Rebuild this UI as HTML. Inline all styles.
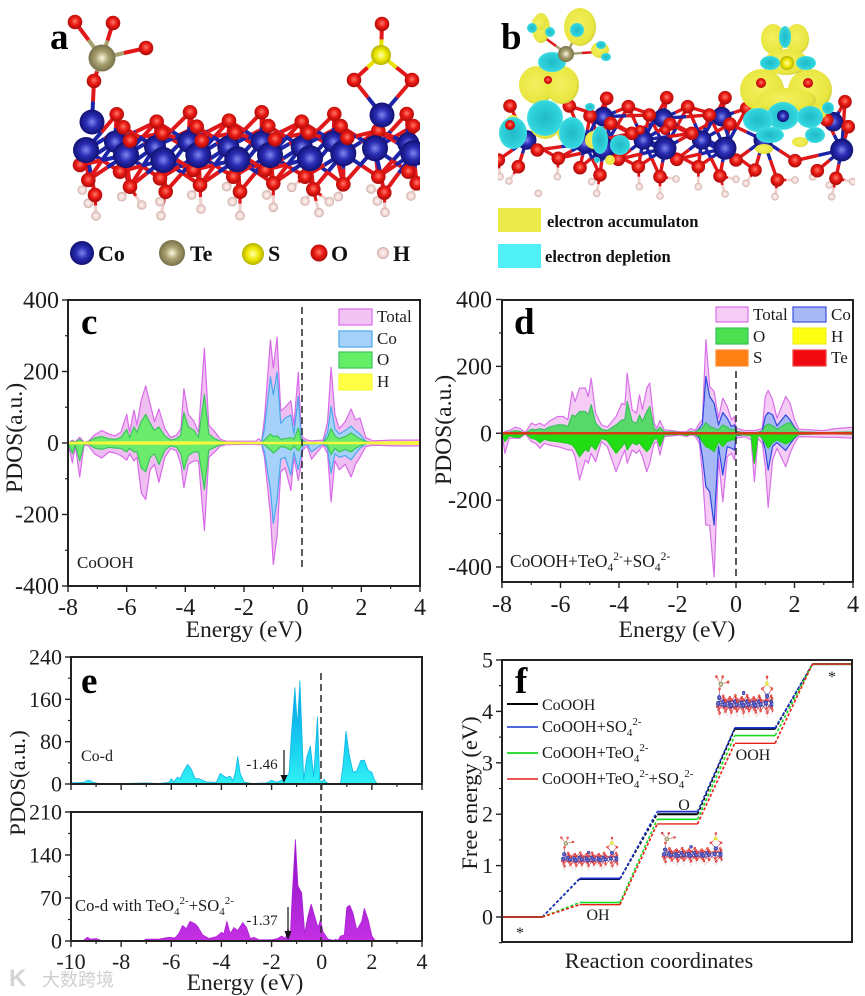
<!DOCTYPE html>
<html lang="en">
<head>
<meta charset="utf-8">
<title>CoOOH composite figure</title>
<style>
html,body{margin:0;padding:0;background:#fff}
svg{display:block}
text{font-family:"Liberation Serif","Noto Serif CJK SC",serif;fill:#1c1c1c}
.tick{font-size:24px}
.tick-small{font-size:22px}
.title{font-size:23.6px}
.letter{font-size:37px;font-weight:bold;fill:#000}
.leg{font-size:17px}
.small{font-size:16px}
.elem{font-size:22px;font-weight:bold;fill:#111}
.iso{font-size:16.5px;font-weight:bold;fill:#111}
</style>
</head>
<body>
<svg id="figure" width="865" height="996" viewBox="0 0 865 996" xmlns="http://www.w3.org/2000/svg">
<defs>
<radialGradient id="gCo" cx=".5" cy=".5" r=".55"><stop offset="0" stop-color="#7f86ee"/><stop offset=".45" stop-color="#2a2cb4"/><stop offset="1" stop-color="#0c0c66"/></radialGradient>
<radialGradient id="gO" cx=".5" cy=".45" r=".55"><stop offset="0" stop-color="#ff7a6a"/><stop offset=".5" stop-color="#ea1a14"/><stop offset="1" stop-color="#a80a08"/></radialGradient>
<radialGradient id="gTe" cx=".5" cy=".5" r=".55"><stop offset="0" stop-color="#fbfbe0"/><stop offset=".45" stop-color="#a8a070"/><stop offset="1" stop-color="#6e6840"/></radialGradient>
<radialGradient id="gS" cx=".5" cy=".5" r=".55"><stop offset="0" stop-color="#ffffb0"/><stop offset=".5" stop-color="#eee800"/><stop offset="1" stop-color="#a8a400"/></radialGradient>
<radialGradient id="gH" cx=".5" cy=".5" r=".55"><stop offset="0" stop-color="#fff6f4"/><stop offset=".6" stop-color="#f0d4d0"/><stop offset="1" stop-color="#b89a96"/></radialGradient>
<radialGradient id="gY" cx=".45" cy=".45" r=".6"><stop offset="0" stop-color="#f4f060"/><stop offset=".8" stop-color="#e8e640"/><stop offset="1" stop-color="#c8c838"/></radialGradient>
<radialGradient id="gC" cx=".5" cy=".5" r=".6"><stop offset="0" stop-color="#20b8c8"/><stop offset=".7" stop-color="#30d4dc"/><stop offset="1" stop-color="#60e8ec"/></radialGradient>
<linearGradient id="gCyan" x1="0" y1="0" x2="0" y2="1"><stop offset="0" stop-color="#0a9ae8"/><stop offset=".55" stop-color="#16c8f0"/><stop offset="1" stop-color="#30f0f4"/></linearGradient>
<linearGradient id="gPurple" x1="0" y1="0" x2="0" y2="1"><stop offset="0" stop-color="#8a10c4"/><stop offset="1" stop-color="#c430e4"/></linearGradient>
<clipPath id="clipA"><rect x="63" y="105" width="357" height="120"/></clipPath>
<clipPath id="clipB"><rect x="498" y="90" width="357" height="115"/></clipPath>
</defs>
<rect width="865" height="996" fill="#fff"/>

<g id="panelA"></g>
<g id="panelB"></g>
<g id="panelC"></g>
<g id="panelD"></g>
<g id="panelE1"></g>
<g id="panelE2"></g>
<g id="panelF"></g>
<g id="minis"></g>

<text class="letter" x="50" y="49">a</text>
<text class="letter" x="501" y="49">b</text>
<text class="letter" x="81" y="334">c</text>
<text class="letter" x="514" y="334">d</text>
<text class="letter" x="81" y="693">e</text>
<text class="letter" x="515" y="693">f</text>

<g>
<circle cx="82" cy="253" r="12" fill="url(#gCo)"/>
<text class="elem" x="98" y="261">Co</text>
<circle cx="172" cy="253" r="13" fill="url(#gTe)"/>
<text class="elem" x="190" y="261">Te</text>
<circle cx="253" cy="254" r="11" fill="url(#gS)"/>
<text class="elem" x="268" y="261">S</text>
<circle cx="319" cy="253" r="8.5" fill="url(#gO)"/>
<text class="elem" x="331" y="261">O</text>
<circle cx="383" cy="253" r="6" fill="url(#gH)"/>
<text class="elem" x="393" y="261">H</text>
</g>

<g>
<rect x="498" y="208" width="43" height="24" fill="#eaea4a"/>
<text class="iso" x="547" y="227">electron accumulaton</text>
<rect x="498" y="244" width="43" height="24" fill="#4ff0f6"/>
<text class="iso" x="545" y="262">electron depletion</text>
</g>

<text class="title" x="244" y="637" text-anchor="middle">Energy (eV)</text>
<text class="title" transform="translate(22,438) rotate(-90)" text-anchor="middle">PDOS(a.u.)</text>
<text class="small" x="77" y="568" style="font-size:17px">CoOOH</text>

<text class="title" x="677" y="637" text-anchor="middle">Energy (eV)</text>
<text class="title" transform="translate(451,430) rotate(-90)" text-anchor="middle">PDOS(a.u.)</text>
<text class="small" x="510" y="567" style="font-size:17.4px">CoOOH+TeO<tspan dy="4" font-size="11.5">4</tspan><tspan dy="-11" font-size="11.5">2-</tspan><tspan dy="7">+SO</tspan><tspan dy="4" font-size="11.5">4</tspan><tspan dy="-11" font-size="11.5">2-</tspan></text>

<text class="title" x="245" y="990" text-anchor="middle">Energy (eV)</text>
<text class="title" transform="translate(25,783) rotate(-90)" text-anchor="middle" style="font-size:22.6px">PDOS(a.u.)</text>
<text class="small" x="81" y="761">Co-d</text>
<text class="small" x="75" y="911" style="font-size:16.6px">Co-d with TeO<tspan dy="4" font-size="11">4</tspan><tspan dy="-11" font-size="11">2-</tspan><tspan dy="7">+SO</tspan><tspan dy="4" font-size="11">4</tspan><tspan dy="-11" font-size="11">2-</tspan></text>
<text x="262" y="769" text-anchor="middle" style="font-size:15px">-1.46</text>
<text x="262" y="925" text-anchor="middle" style="font-size:15px">-1.37</text>

<text class="title" x="659" y="968" text-anchor="middle" style="font-size:22.4px">Reaction coordinates</text>
<text class="title" transform="translate(477,793) rotate(-90)" text-anchor="middle" style="font-size:22.5px">Free energy (eV)</text>
<text class="small" x="598" y="920" text-anchor="middle">OH</text>
<text class="small" x="684" y="810" text-anchor="middle">O</text>
<text class="small" x="753" y="760" text-anchor="middle">OOH</text>
<text class="small" x="520" y="938" text-anchor="middle">*</text>
<text class="small" x="832" y="682" text-anchor="middle">*</text>
<g>
<text class="small" x="542" y="710">CoOOH</text>
<text class="small" x="542" y="732" style="font-size:16.4px">CoOOH+SO<tspan dy="4" font-size="11">4</tspan><tspan dy="-11" font-size="11">2-</tspan></text>
<text class="small" x="542" y="758" style="font-size:16.4px">CoOOH+TeO<tspan dy="4" font-size="11">4</tspan><tspan dy="-11" font-size="11">2-</tspan></text>
<text class="small" x="542" y="784" style="font-size:16.4px">CoOOH+TeO<tspan dy="4" font-size="11">4</tspan><tspan dy="-11" font-size="11">2-</tspan><tspan dy="7">+SO</tspan><tspan dy="4" font-size="11">4</tspan><tspan dy="-11" font-size="11">2-</tspan></text>
</g>

<g>
<text x="9" y="986" style="font-size:24px;fill:#d4d4d4;font-family:'Liberation Sans',sans-serif;font-weight:bold">K</text>
<text x="42" y="986" style="font-size:18px;fill:#cfcfcf;font-family:'Liberation Sans','Noto Sans CJK SC',sans-serif">大数跨境</text>
</g>
</svg>

<script>
/* ===== Panel c data (Energy eV, PDOS a.u.) ===== */
const cEnergy=[-8,-7.85,-7.75,-7.6,-7.45,-7.3,-7.1,-6.85,-6.6,-6.4,-6.2,-6,-5.9,-5.75,-5.65,-5.5,-5.35,-5.2,-5.05,-4.9,-4.7,-4.5,-4.3,-4.15,-4.05,-3.9,-3.7,-3.55,-3.35,-3.2,-3,-2.8,-2.6,-2,-1.6,-1.5,-1.4,-1.3,-1.1,-1,-0.87,-0.75,-0.6,-0.4,-0.3,-0.15,-0.05,0,0.15,0.3,0.7,0.85,0.97,1.1,1.25,1.45,1.65,1.8,1.95,2.15,2.4,3,4];
const cTotalUp=[0,8,3,16,2,5,22,35,25,20,30,80,30,92,50,120,160,110,60,95,40,15,22,40,152,80,60,30,265,50,32,10,5,5,5,12,5,70,288,210,296,90,100,118,50,198,30,15,8,6,8,60,212,80,40,60,95,65,70,15,6,8,8];
const cTotalDown=[0,-55,-8,-95,-5,-8,-30,-42,-25,-28,-35,-48,-30,-50,-40,-140,-158,-75,-60,-110,-40,-15,-22,-60,-125,-60,-50,-50,-245,-40,-25,-8,-5,-4,-4,-5,-4,-40,-200,-340,-260,-80,-70,-133,-40,-105,-60,-20,-8,-45,-6,-30,-165,-50,-75,-60,-95,-60,-40,-10,-6,-8,-8];
const cCoUp=[0,2,1,3,1,1,3,5,4,3,5,10,5,12,8,20,25,18,12,15,8,3,4,6,20,12,10,6,30,8,5,2,1,1,1,2,1,40,185,135,198,55,70,78,25,130,15,8,2,1,2,30,103,40,25,35,47,35,25,5,1,2,2];
const cCoDown=[0,-5,-2,-8,-1,-1,-4,-6,-4,-4,-5,-10,-5,-12,-8,-20,-25,-15,-12,-18,-8,-3,-4,-8,-25,-12,-10,-8,-35,-6,-4,-2,-1,-1,-1,-2,-1,-25,-130,-225,-160,-45,-40,-90,-25,-75,-30,-10,-2,-25,-1,-15,-85,-30,-40,-35,-47,-30,-15,-3,-1,-2,-2];
const cOUp=[0,5,2,10,1,3,14,18,12,10,15,38,15,45,30,60,80,55,35,45,20,8,12,22,85,45,35,15,135,25,12,5,2,1,1,1,1,8,25,18,20,10,12,15,10,42,8,4,1,1,2,15,40,20,12,18,28,20,12,4,1,1,1];
const cODown=[0,-30,-5,-50,-3,-3,-14,-18,-12,-14,-15,-25,-15,-25,-25,-70,-80,-40,-30,-60,-20,-8,-12,-30,-75,-35,-25,-25,-130,-20,-12,-5,-2,-1,-1,-1,-1,-5,-20,-28,-20,-10,-12,-20,-8,-22,-10,-3,-1,-3,-1,-8,-33,-15,-25,-18,-25,-15,-8,-2,-1,-1,-1];
const cHEnergy=[-8,-6,-4,-2,0,2,3,4];
const cHUp=[2,3,3,2,2,2,3,4];
const cHDown=[-2,-3,-3,-2,-2,-2,-3,-4];
const cXTicks=[-8,-6,-4,-2,0,2,4];
const cXMinor=[-7,-5,-3,-1,1,3];
const cYTicks=[400,200,0,-200,-400];
const cYMinor=[300,100,-100,-300];

/* ===== Panel d data ===== */
const dEnergy=[-8,-7.9,-7.75,-7.55,-7.4,-7.2,-7,-6.85,-6.7,-6.55,-6.4,-6.1,-5.9,-5.75,-5.6,-5.5,-5.35,-5.15,-5.05,-4.95,-4.8,-4.6,-4.4,-4.1,-3.9,-3.8,-3.72,-3.55,-3.4,-3.3,-3.2,-3.05,-2.95,-2.8,-2.7,-2.6,-2.45,-2.2,-1.9,-1.7,-1.55,-1.4,-1.25,-1.15,-1.03,-0.9,-0.75,-0.6,-0.45,-0.3,-0.15,-0.05,0,0.3,0.52,0.63,0.75,0.9,1,1.1,1.25,1.4,1.7,1.85,2,2.15,3,3.4,4];
const dTotalUp=[0,5,8,18,15,2,30,25,30,22,35,50,50,40,125,95,135,135,110,165,60,25,18,50,90,85,180,70,60,115,70,135,150,30,15,38,10,8,4,5,14,8,30,40,280,140,125,45,105,80,40,50,15,8,8,8,10,15,110,128,100,45,110,90,40,12,8,14,18];
const dTotalDown=[0,-60,-15,-15,-15,-2,-25,-30,-45,-30,-35,-40,-45,-50,-50,-70,-140,-80,-90,-60,-85,-25,-40,-115,-70,-50,-90,-50,-60,-50,-70,-115,-90,-30,-25,-65,-10,-8,-5,-10,-5,-8,-30,-120,-275,-275,-430,-75,-205,-70,-60,-80,-15,-10,-20,-145,-15,-30,-100,-222,-80,-45,-100,-60,-30,-10,-12,-12,-15];
const dCoUp=[0,1,2,3,3,0,3,3,4,3,4,5,6,5,12,10,14,14,12,16,6,3,2,6,10,10,18,8,7,12,8,14,16,4,2,4,1,1,1,1,3,2,15,28,170,110,90,25,62,45,20,25,6,1,1,1,2,8,50,62,55,22,55,40,18,4,1,2,3];
const dCoDown=[0,-4,-2,-2,-2,0,-3,-3,-5,-3,-4,-5,-6,-6,-8,-10,-14,-10,-10,-8,-10,-3,-5,-12,-8,-6,-10,-6,-8,-6,-8,-12,-10,-4,-3,-6,-1,-1,-1,-1,-1,-2,-15,-70,-160,-175,-275,-40,-125,-40,-45,-50,-8,-4,-6,-15,-4,-15,-50,-110,-40,-28,-52,-32,-15,-3,-1,-1,-2];
const dOUp=[0,2,3,8,6,0,12,10,14,10,18,25,25,20,55,50,65,65,55,85,30,12,8,25,40,40,95,35,30,55,35,65,80,15,8,18,4,4,2,2,5,3,12,15,32,20,15,10,25,18,10,12,5,2,2,2,3,6,22,28,22,12,28,32,15,4,2,3,4];
const dODown=[0,-25,-8,-12,-12,0,-15,-18,-28,-18,-22,-25,-28,-30,-35,-45,-70,-48,-55,-35,-50,-15,-22,-60,-40,-28,-50,-28,-35,-28,-40,-55,-45,-18,-15,-40,-5,-4,-3,-6,-3,-4,-10,-25,-40,-45,-55,-25,-40,-25,-20,-20,-5,-5,-8,-90,-5,-15,-30,-45,-28,-20,-32,-25,-12,-3,-2,-2,-3];
const dXTicks=[-8,-6,-4,-2,0,2,4];
const dXMinor=[-7,-5,-3,-1,1,3];
const dYTicks=[400,200,0,-200,-400];
const dYMinor=[300,100,-100,-300];

/* ===== Panel e data ===== */
const e1Energy=[-10,-9.5,-9.3,-9.1,-8.9,-8,-7,-6.5,-6.1,-6,-5.9,-5.75,-5.65,-5.5,-5.35,-5.2,-5.05,-4.9,-4.6,-4.2,-4.05,-3.9,-3.8,-3.65,-3.55,-3.45,-3.35,-3.25,-3.1,-2.8,-2.2,-2,-1.8,-1.6,-1.45,-1.3,-1.2,-1.07,-0.97,-0.87,-0.72,-0.6,-0.45,-0.32,-0.17,-0.08,0,0.1,0.18,0.3,0.75,0.85,0.97,1.1,1.25,1.4,1.55,1.7,1.85,2,2.1,2.2,4];
const e1Values=[2,3,7,3,1,1,2,1,3,10,4,13,10,25,37,28,10,10,4,3,20,15,12,15,6,20,52,20,4,1,2,7,3,7,12,20,100,182,110,195,8,50,72,14,127,8,4,9,3,0,1,35,100,55,22,25,44,45,26,22,8,1,1];
const e2Energy=[-10,-9.5,-9.35,-9.2,-9,-8.8,-7.1,-7,-6.5,-6.1,-5.85,-5.7,-5.55,-5.4,-5.25,-5.05,-4.95,-4.75,-4.5,-4.2,-4,-3.9,-3.78,-3.65,-3.5,-3.35,-3.15,-3,-2.85,-2.7,-2.5,-2,-1.75,-1.6,-1.45,-1.35,-1.25,-1.18,-1.05,-0.95,-0.8,-0.68,-0.55,-0.42,-0.28,-0.15,-0.05,0.05,0.25,0.5,0.55,0.65,0.75,0.9,1,1.12,1.25,1.4,1.6,1.7,1.85,2,2.15,4];
const e2Values=[1,1,6,3,4,1,1,3,3,6,5,12,25,20,32,28,24,10,4,7,14,12,32,12,22,17,30,22,4,6,2,2,4,8,4,20,10,70,165,90,78,12,40,60,40,22,35,15,3,1,3,1,8,10,55,58,45,18,32,53,35,8,0,0];
const eXTicks=[-10,-8,-6,-4,-2,0,2,4];
const eXMinor=[-9,-7,-5,-3,-1,1,3];
const e1YTicks=[240,160,80,0];
const e1YMinor=[200,120,40];
const e2YTicks=[210,140,70,0];
const e2YMinor=[175,105,35];

/* ===== Panel f data (free energy per intermediate) ===== */
const fSteps=["*","OH","O","OOH","*"];
const fCoOOH=[0,0.74,2.0,3.66,4.92];
const fSO4=[0,0.75,2.05,3.68,4.92];
const fTeO4=[0,0.28,1.9,3.53,4.92];
const fBoth=[0,0.24,1.81,3.38,4.92];
const fYTicks=[5,4,3,2,1,0];
const fYMinor=[4.5,3.5,2.5,1.5,0.5,-0.5];

/* ===== helpers ===== */
const NS='http://www.w3.org/2000/svg';
function make(parent,tag,name,props){
  const el=document.createElementNS(NS,tag);
  
  
  for(const k in props){el.setAttribute(k,props[k]);}
  parent.appendChild(el);
  return el;
}
function scale(d0,d1,r0,r1){return v=>r0+(v-d0)*(r1-r0)/(d1-d0);}
function areaPath(xs,ys,X,Y){
  let d='M'+X(xs[0]).toFixed(1)+' '+Y(0).toFixed(1);
  xs.forEach((x,i)=>{d+='L'+X(x).toFixed(1)+' '+Y(ys[i]).toFixed(1);});
  d+='L'+X(xs[xs.length-1]).toFixed(1)+' '+Y(0).toFixed(1)+'Z';
  return d;
}
function area(g,name,xs,ys,X,Y,fill,stroke,sw){
  make(g,'path',name,{d:areaPath(xs,ys,X,Y),fill:fill,stroke:stroke||'none','stroke-width':sw||1.2,'stroke-linejoin':'round'});
}
function frame(g,a,o){
  const cls=o.tickClass||'tick';
  const off=o.tickOffset||8;
  make(g,'rect','plot-frame',{x:o.x0,y:o.y1,width:o.x1-o.x0,height:o.y0-o.y1,fill:'none',stroke:'#222','stroke-width':2});
  (o.xTicks||[]).forEach(t=>{
    make(g,'line','x-tick',{x1:a.X(t),x2:a.X(t),y1:o.y0,y2:o.y0+6,stroke:'#222','stroke-width':1.4});
    if(o.xLabels){
      const l=make(g,'text','x-tick-label',{x:a.X(t),y:o.xLabelY,'text-anchor':'middle',class:cls});
      l.textContent=String(t);
    }
  });
  (o.xMinor||[]).forEach(t=>{
    make(g,'line','x-minor-tick',{x1:a.X(t),x2:a.X(t),y1:o.y0,y2:o.y0+3,stroke:'#222','stroke-width':1.2});
  });
  (o.yTicks||[]).forEach(t=>{
    make(g,'line','y-tick',{x1:o.x0-6,x2:o.x0,y1:a.Y(t),y2:a.Y(t),stroke:'#222','stroke-width':1.4});
    const l=make(g,'text','y-tick-label',{x:o.yLabelX,y:a.Y(t)+off,'text-anchor':'end',class:cls});
    l.textContent=String(t);
  });
  (o.yMinor||[]).forEach(t=>{
    make(g,'line','y-minor-tick',{x1:o.x0-3,x2:o.x0,y1:a.Y(t),y2:a.Y(t),stroke:'#222','stroke-width':1.2});
  });
}
function legendBox(g,name,x,y,w,h,fill,stroke){
  make(g,'rect',name,{x:x,y:y,width:w,height:h,fill:fill,stroke:stroke,'stroke-width':1.2});
}
function legendText(g,name,x,y,str){
  const t=make(g,'text',name,{x:x,y:y,class:'leg'});
  t.textContent=str;
}
function dashed(g,name,x,y1,y2){
  make(g,'line',name,{x1:x,x2:x,y1:y1,y2:y2,stroke:'#333','stroke-width':1.6,'stroke-dasharray':'7 4'});
}

/* ===== Panel c ===== */
(function(){
  const g=document.getElementById('panelC');
  const o={x0:68,x1:420,y0:586,y1:300,xTicks:cXTicks,xMinor:cXMinor,yTicks:cYTicks,yMinor:cYMinor,xLabels:true,xLabelY:615,yLabelX:59};
  const X=scale(-8,4,o.x0,o.x1),Y=scale(-400,400,586,300);
  area(g,'total-spin-up-area',cEnergy,cTotalUp,X,Y,'#f0bff2','#d86ae8');
  area(g,'total-spin-down-area',cEnergy,cTotalDown,X,Y,'#f0bff2','#d86ae8');
  area(g,'co-spin-up-area',cEnergy,cCoUp,X,Y,'#a6d2fa','#4aa8ec');
  area(g,'co-spin-down-area',cEnergy,cCoDown,X,Y,'#a6d2fa','#4aa8ec');
  area(g,'o-spin-up-area',cEnergy,cOUp,X,Y,'#6cec6c','#3cc45c');
  area(g,'o-spin-down-area',cEnergy,cODown,X,Y,'#6cec6c','#3cc45c');
  area(g,'h-spin-up-area',cHEnergy,cHUp,X,Y,'#f6f63c','#f6f63c');
  area(g,'h-spin-down-area',cHEnergy,cHDown,X,Y,'#f6f63c','#f6f63c');
  dashed(g,'fermi-level-line',302,307,570);
  frame(g,{X:X,Y:Y},o);
  legendBox(g,'legend-swatch-total',339,309,33,16,'#f2c4f4','#d86ae8');
  legendBox(g,'legend-swatch-co',339,331,33,16,'#a6d2fa','#4aa8ec');
  legendBox(g,'legend-swatch-o',339,352,33,16,'#66ee66','#3cc45c');
  legendBox(g,'legend-swatch-h',339,374,33,16,'#ffff44','#f6f63c');
  legendText(g,'legend-label-total',377,322,'Total');
  legendText(g,'legend-label-co',377,344,'Co');
  legendText(g,'legend-label-o',377,365,'O');
  legendText(g,'legend-label-h',377,387,'H');
})();

/* ===== Panel d ===== */
(function(){
  const g=document.getElementById('panelD');
  const o={x0:502,x1:853,y0:582,y1:300,xTicks:dXTicks,xMinor:dXMinor,yTicks:dYTicks,yMinor:dYMinor,xLabels:true,xLabelY:612,yLabelX:492};
  const X=scale(-8,4,o.x0,o.x1),Y=scale(-400,400,567,299.5);
  area(g,'total-spin-up-area',dEnergy,dTotalUp,X,Y,'#f5ccf5','#d870e8');
  area(g,'total-spin-down-area',dEnergy,dTotalDown,X,Y,'#f5ccf5','#d870e8');
  area(g,'co-spin-up-area',dEnergy,dCoUp,X,Y,'#a8b8f6','#2e48e0');
  area(g,'co-spin-down-area',dEnergy,dCoDown,X,Y,'#a8b8f6','#2e48e0');
  area(g,'o-spin-up-area',dEnergy,dOUp,X,Y,'#58d868','#3cc060');
  area(g,'o-spin-down-area',dEnergy,dODown,X,Y,'#22dc14','#22cc20');
  make(g,'line','zero-line-te',{x1:o.x0,x2:o.x1,y1:Y(0),y2:Y(0),stroke:'#d83a18','stroke-width':2.4});
  dashed(g,'fermi-level-line',736,371,578);
  frame(g,{X:X,Y:Y},o);
  legendBox(g,'legend-swatch-total',716,307,32,15,'#f5ccf5','#d870e8');
  legendBox(g,'legend-swatch-co',793,307,33,15,'#a8b8f6','#3a52e0');
  legendBox(g,'legend-swatch-o',716,328,32,16,'#4ae050','#3cc060');
  legendBox(g,'legend-swatch-h',793,328,33,16,'#ffff10','#eeee20');
  legendBox(g,'legend-swatch-s',716,350,32,16,'#ff8014','#ff8a30');
  legendBox(g,'legend-swatch-te',793,350,33,16,'#f00a10','#f04040');
  legendText(g,'legend-label-total',753,320,'Total');
  legendText(g,'legend-label-co',831,320,'Co');
  legendText(g,'legend-label-o',753,342,'O');
  legendText(g,'legend-label-h',831,342,'H');
  legendText(g,'legend-label-s',753,363,'S');
  legendText(g,'legend-label-te',831,363,'Te');
})();

/* ===== Panel e ===== */
(function(){
  const g1=document.getElementById('panelE1');
  const o1={x0:71,x1:422,y0:784,y1:657,xTicks:eXTicks,xMinor:eXMinor,yTicks:e1YTicks,yMinor:e1YMinor,xLabels:false,yLabelX:62,tickClass:'tick-small',tickOffset:7.5};
  const X=scale(-10,4,71,422),Y1=scale(0,240,784,657);
  area(g1,'co-d-area',e1Energy,e1Values,X,Y1,'url(#gCyan)','#10b8e8',0.8);
  frame(g1,{X:X,Y:Y1},o1);
  const g2=document.getElementById('panelE2');
  const o2={x0:71,x1:422,y0:941,y1:812,xTicks:eXTicks,xMinor:eXMinor,yTicks:e2YTicks,yMinor:e2YMinor,xLabels:true,xLabelY:969,yLabelX:62,tickClass:'tick-small',tickOffset:7.5};
  const Y2=scale(0,210,941,812);
  area(g2,'co-d-modified-area',e2Energy,e2Values,X,Y2,'url(#gPurple)','#b020d8',0.8);
  frame(g2,{X:X,Y:Y2},o2);
  dashed(g2,'fermi-level-line',321,673,940);
  make(g1,'line','d-band-arrow-top',{x1:284,x2:284,y1:750,y2:778,stroke:'#111','stroke-width':1.2});
  make(g1,'path','d-band-arrowhead-top',{d:'M280.5 775L287.5 775L284 783Z',fill:'#111'});
  make(g2,'line','d-band-arrow-bottom',{x1:288,x2:288,y1:907,y2:934,stroke:'#111','stroke-width':1.2});
  make(g2,'path','d-band-arrowhead-bottom',{d:'M284.5 931L291.5 931L288 940Z',fill:'#111'});
})();

/* ===== Panel f ===== */
(function(){
  const g=document.getElementById('panelF');
  const o={x0:502,x1:852,y0:942,y1:660,xTicks:[],xMinor:[],yTicks:fYTicks,yMinor:fYMinor,xLabels:false,yLabelX:493,tickClass:'tick-small',tickOffset:7.5};
  const period=77.6, plateau=0.52;
  const X=c=>502+c*period;
  const Y=scale(0,5,917,660);
  const series=[
    {name:'coooh',v:fCoOOH,color:'#000',w:2},
    {name:'so4',v:fSO4,color:'#1a35d0',w:1.8},
    {name:'teo4',v:fTeO4,color:'#18d820',w:1.6},
    {name:'both',v:fBoth,color:'#e82018',w:1.4}
  ];
  series.forEach(s=>{
    const sg=make(g,'g','series-'+s.name,{});
    s.v.forEach((v,i)=>{
      make(sg,'line','plateau-'+s.name,{x1:X(i),x2:Math.min(X(i+plateau),852),y1:Y(v),y2:Y(v),stroke:s.color,'stroke-width':s.w});
      if(i<s.v.length-1){
        make(sg,'line','connector-'+s.name,{x1:X(i+plateau),x2:X(i+1),y1:Y(v),y2:Y(s.v[i+1]),stroke:s.color,'stroke-width':1.6,'stroke-dasharray':'3 2'});
      }
    });
  });
  make(g,'line','legend-line-coooh',{x1:507,x2:538,y1:704,y2:704,stroke:'#000','stroke-width':2});
  make(g,'line','legend-line-so4',{x1:507,x2:538,y1:727,y2:727,stroke:'#1a35d0','stroke-width':1.6});
  make(g,'line','legend-line-teo4',{x1:507,x2:538,y1:753,y2:753,stroke:'#18d820','stroke-width':1.8});
  make(g,'line','legend-line-both',{x1:507,x2:538,y1:779,y2:779,stroke:'#e82018','stroke-width':1.4});
  frame(g,{X:X,Y:Y},o);
})();

/* ===== Atomic structures (coordinates in 3× crop space) ===== */
const aCoBack=[[345,425],[465,440],[565,425],[685,440],[785,425],[905,440],[1000,425],[1225,430]];
const aCo=[[258,450],[378,465],[490,480],[595,465],[712,478],[810,465],[930,475],[1030,460],[1125,445],[1240,460]];
const aOTop=[[350,343],[470,365],[570,337],[687,362],[785,337],[905,365],[1003,342],[1135,392],[1220,342],[1022,378],[1240,378],[370,382],[487,400],[590,380],[705,398],[805,378],[925,398]];
const aOFront=[[390,422],[605,422],[825,418],[1042,413]];
const aOLow=[[240,495],[265,540],[360,515],[390,560],[480,535],[580,510],[600,555],[700,530],[795,510],[820,550],[915,530],[1030,553],[1135,530],[1250,550],[1225,515]];
const aOBottom=[[285,585],[497,575],[720,575],[940,568],[1153,578]];
const aH=[[247,570],[265,610],[288,648],[365,590],[425,615],[483,647],[480,605],[575,585],[603,627],[680,560],[697,605],[720,647],[800,585],[820,622],[875,562],[915,603],[957,638],[988,605],[1015,590],[1113,567],[1132,603],[1155,637],[1233,588]];

function atom(g,name,x,y,r,grad){
  make(g,'circle',name,{cx:x.toFixed(1),cy:y.toFixed(1),r:r,fill:'url(#'+grad+')'});
}
function bond(g,x1,y1,x2,y2,c1,c2,w){
  const mx=(x1+x2)/2,my=(y1+y2)/2;
  make(g,'line','bond',{x1:x1,y1:y1,x2:mx,y2:my,stroke:c1,'stroke-width':w});
  make(g,'line','bond',{x1:mx,y1:my,x2:x2,y2:y2,stroke:c2,'stroke-width':w});
}
function network(g,coList,oList,hList,z,ox,rCo,rO,rH,w,frontList,coBack){
  const P=p=>[ox+p[0]/z,p[1]/z];
  const all=oList.map(P),co=coList.concat(coBack).map(P),h=hList.map(P);
  co.forEach(c=>all.forEach(o=>{
    const d=Math.hypot(c[0]-o[0],c[1]-o[1]);
    if(d<50){bond(g,c[0],c[1],o[0],o[1],'#1c24a8','#e0181a',w);}
  }));
  h.forEach(p=>{
    let best=null,bd=1e9;
    all.forEach(o=>{const d=Math.hypot(o[0]-p[0],o[1]-p[1]);if(d<bd){bd=d;best=o;}});
    if(best&&bd<26){bond(g,p[0],p[1],best[0],best[1],'#efd0cc','#e0181a',w*.8);}
  });
  h.forEach(p=>atom(g,'h-atom',p[0],p[1],rH,'gH'));
  coBack.map(P).forEach(p=>atom(g,'co-atom',p[0],p[1],rCo*.85,'gCo'));
  all.forEach(p=>atom(g,'o-atom',p[0],p[1],rO,'gO'));
  coList.map(P).forEach(p=>atom(g,'co-atom',p[0],p[1],rCo,'gCo'));
  frontList.map(P).forEach(p=>atom(g,'o-atom',p[0],p[1],rO,'gO'));
}
function drawA(g){
  const slab=make(g,'g','slab',{'clip-path':'url(#clipA)'});
  network(slab,aCo,aOTop.concat(aOLow,aOBottom),aH,3,0,13,7.3,4.8,4,aOFront,aCoBack);
  bond(g,102,58,75,22,'#a8a070','#e0181a',4);
  bond(g,102,58,113,23,'#a8a070','#e0181a',4);
  bond(g,102,58,146,48,'#a8a070','#e0181a',4);
  bond(g,100,62,94,81,'#a8a070','#e0181a',4);
  bond(g,94,81,92,122,'#e0181a','#1c24a8',4);
  atom(g,'o-atom',75,22,7.3,'gO');
  atom(g,'o-atom',113,23,7.3,'gO');
  atom(g,'o-atom',146,48,7.3,'gO');
  atom(g,'o-atom',94,81,7.3,'gO');
  atom(g,'te-atom',102,58,13.5,'gTe');
  atom(g,'co-atom',92,122,12.5,'gCo');
  bond(g,381,55,382,24,'#e8e000','#e0181a',4);
  bond(g,381,55,354,80,'#e8e000','#e0181a',4);
  bond(g,381,55,412,80,'#e8e000','#e0181a',4);
  bond(g,354,80,382,115,'#e0181a','#1c24a8',4);
  bond(g,412,80,382,115,'#e0181a','#1c24a8',4);
  atom(g,'o-atom',382,24,7.3,'gO');
  atom(g,'o-atom',354,80,7.3,'gO');
  atom(g,'o-atom',412,80,7.3,'gO');
  atom(g,'s-atom',381,55,10,'gS');
  atom(g,'co-atom',382,115,12.5,'gCo');
}
drawA(document.getElementById('panelA'));

const bCoBack=[[520,350],[700,355],[875,350],[640,420],[815,420],[1000,420],[1210,365],[290,420],[465,430]];
const bCo=[[520,445],[705,445],[885,445],[1235,450]];
const bO=[[240,318],[418,318],[530,295],[595,320],[710,293],[773,320],[885,293],[950,325],[1245,305],[480,348],[542,370],[658,345],[720,372],[838,345],[900,372],[1190,360],[1255,380],[605,400],[785,400],[265,500],[322,450],[385,475],[450,503],[510,525],[565,478],[625,500],[690,530],[740,478],[805,500],[870,528],[918,480],[975,510],[1042,540],[1095,482],[1162,512],[1218,535],[205,480]];
const bH=[[210,530],[237,543],[325,580],[382,530],[485,545],[500,580],[628,560],[690,588],[738,537],[805,560],[885,582],[918,538],[948,550],[1035,590],[1095,540],[1148,530],[1198,555],[1205,590],[1268,545]];
/* lobes: centre-x, centre-y, radius-x, radius-y in page pixels */
const bYellow=[[537,85,18,19],[562,85,17,19],[541,28,9,15],[580,27,16,19],[600,50,9,8],[539,23,7,7],[762,90,22,21],[810,90,22,21],[786,100,30,12],[773,39,12,15],[797,39,12,15],[786,62,22,13],[545,125,15,14],[513,125,8,10],[566,133,9,10],[594,140,9,9],[610,160,5,5],[757,115,10,8],[800,142,8,5],[764,149,9,5],[820,112,7,7]];
const bCyan=[[552,62,14,10],[577,30,7,7],[532,28,5,5],[550,32,5,5],[601,45,5,4],[606,57,5,4],[785,37,6,11],[770,63,10,7],[806,63,10,7],[545,118,18,18],[513,133,14,16],[572,133,13,16],[600,140,8,14],[620,145,10,10],[783,116,16,14],[758,120,15,12],[810,117,13,11],[770,135,14,8],[815,135,10,8],[828,108,6,6],[590,107,5,4],[597,160,3,3]];
(function(){
  const g=document.getElementById('panelB');
  const slab=make(g,'g','slab',{'clip-path':'url(#clipB)'});
  network(slab,bCo,bO,bH,3,430,11.5,6.8,3.8,3.4,[],bCoBack);
  bond(g,567,54,545,38,'#a8a070','#e0181a',2.6);
  bond(g,567,54,578,30,'#a8a070','#e0181a',2.6);
  bond(g,567,54,597,52,'#a8a070','#e0181a',2.6);
  bYellow.forEach(b=>make(g,'ellipse','electron-accumulation-lobe',{cx:b[0],cy:b[1],rx:b[2],ry:b[3],fill:'url(#gY)'}));
  bCyan.forEach(b=>make(g,'ellipse','electron-depletion-lobe',{cx:b[0],cy:b[1],rx:b[2],ry:b[3],fill:'url(#gC)'}));
  atom(g,'te-atom',566,54,8,'gTe');
  atom(g,'s-atom',787,63,7,'gS');
  atom(g,'o-atom',548,80,4,'gO');
  atom(g,'o-atom',761,83,5,'gO');
  atom(g,'o-atom',808,83,5,'gO');
  atom(g,'co-atom',783,116,6,'gCo');
  [[510,125],[640,130],[665,130]].forEach(p=>atom(g,'o-atom',p[0],p[1],5,'gO'));
})();

/* ===== Insets in panel f ===== */
(function(){
  const root=document.getElementById('minis');
  const g1=make(root,'g','adsorbate-inset-oh',{transform:'translate(549,834) scale(.165,.165)',opacity:.82});
  drawA(g1);
  atom(g1,'co-atom',240,112,10,'gCo');
  const g2=make(root,'g','adsorbate-inset-o',{transform:'translate(649,829.5) scale(.175,.165)',opacity:.82});
  drawA(g2);
  atom(g2,'co-atom',240,105,10,'gCo');
  const g3=make(root,'g','adsorbate-inset-ooh',{transform:'translate(704,672) scale(.165,.21)',opacity:.82});
  drawA(g3);
  atom(g3,'co-atom',240,100,10,'gCo');
})();
</script>
</body>
</html>
